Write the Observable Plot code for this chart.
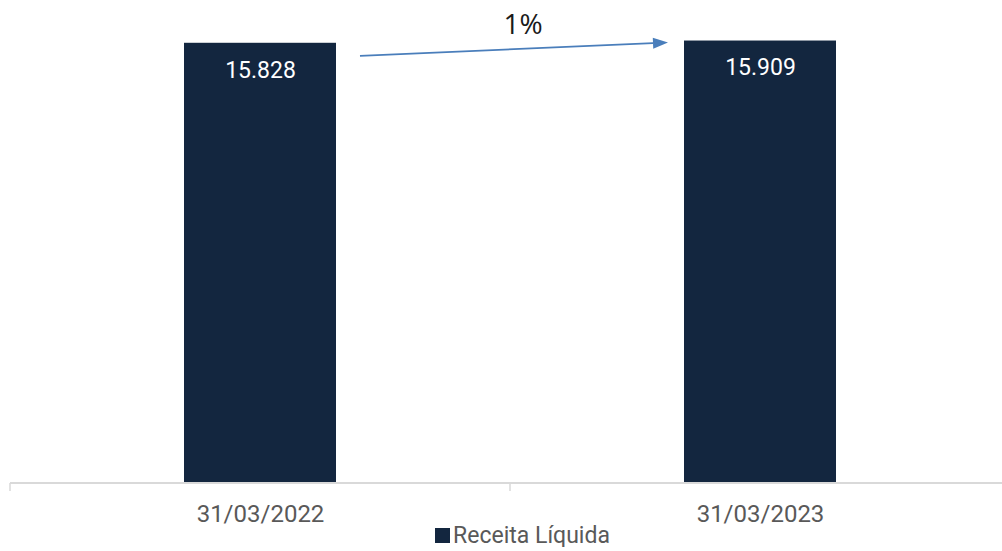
<!DOCTYPE html>
<html><head><meta charset="utf-8">
<script src="https://cdn.jsdelivr.net/npm/d3@7"></script>
<script src="https://cdn.jsdelivr.net/npm/@observablehq/plot@0.6"></script>
<style>
html,body{margin:0;padding:0;background:#fff;}
#chart svg{display:block;}
#legend{position:relative;margin-top:-8px;height:23px;display:flex;justify-content:center;align-items:center;padding-left:43px;font-family:Roboto,sans-serif;font-size:23px;color:#595959;}
#legend .sw{width:15px;height:15px;background:#13263F;margin-right:3px;flex:none;}
</style></head>
<body><div id="chart"></div><div id="legend"></div>
<script>
const categories = ["31/03/2022", "31/03/2023"];
const values = [15828, 15909];
const valueLabels = ["15.828", "15.909"];
const seriesName = "Receita Líquida";
const changeLabel = "1%";

const barColor = "#13263F";
const data = categories.map((c, i) => ({date: c, value: values[i], label: valueLabels[i]}));

function bw(x) { return typeof x.bandwidth === "function" ? x.bandwidth() : x.bandwidth; }

function axisLine(index, scales) {
  const {x, y} = scales;
  const b = bw(x);
  const step = x(categories[1]) - x(categories[0]);
  const gap = (step - b) / 2;
  const y0 = y(0);
  const g = d3.create("svg:g").attr("stroke", "#d9d9d9");
  const left = x(categories[0]) - gap;
  const right = x(categories[categories.length - 1]) + b + gap;
  g.append("line").attr("x1", left).attr("x2", right).attr("y1", y0).attr("y2", y0).attr("stroke-width", 2);
  for (let i = 0; i <= categories.length; i++) {
    const xx = left + i * step;
    g.append("line").attr("x1", xx).attr("x2", xx).attr("y1", y0).attr("y2", y0 + 8).attr("stroke-width", 1.5);
  }
  return g.node();
}

function changeArrow(index, scales) {
  const {x, y} = scales;
  const b = bw(x);
  const x1 = x(categories[0]) + b + 24, y1 = y(values[0]) + 13;
  const x2 = x(categories[1]) - 16, y2 = y(values[1]) + 2;
  const ang = Math.atan2(y2 - y1, x2 - x1);
  const L = 15, W = 5.5;
  const bx = x2 - L * Math.cos(ang), by = y2 - L * Math.sin(ang);
  const px = -Math.sin(ang) * W, py = Math.cos(ang) * W;
  const g = d3.create("svg:g");
  g.append("line").attr("x1", x1).attr("y1", y1).attr("x2", bx).attr("y2", by)
    .attr("stroke", "#4a7ebb").attr("stroke-width", 1.8);
  g.append("path").attr("d", `M${x2},${y2}L${bx + px},${by + py}L${bx - px},${by - py}Z`).attr("fill", "#4a7ebb");
  g.append("text").attr("x", (x1 + x2) / 2 + 9).attr("y", (y1 + y2) / 2 - 26)
    .attr("text-anchor", "middle").attr("dominant-baseline", "central")
    .attr("font-family", "'Open Sans', sans-serif").attr("font-size", 28).attr("fill", "#1a1a1a")
    .text(changeLabel);
  return g.node();
}

const plot = Plot.plot({
  width: 1002,
  height: 532,
  marginTop: 38,
  marginBottom: 49,
  marginLeft: 10,
  marginRight: 0,
  style: {background: "#fff"},
  x: {domain: categories, range: [10, 1010], paddingInner: 0.696, paddingOuter: 0.348, axis: null},
  y: {domain: [0, 16000], axis: null},
  marks: [
    Plot.barY(data, {x: "date", y: "value", fill: barColor}),
    axisLine,
    Plot.text(data, {x: "date", y: "value", text: "label", dy: 27, fill: "white", fontSize: 23, fontFamily: "Roboto"}),
    Plot.text(data, {x: "date", y: () => 0, text: "date", dy: 31, fill: "#595959", fontSize: 24, fontFamily: "Roboto"}),
    changeArrow
  ]
});
document.getElementById("chart").appendChild(plot);
const lg = document.getElementById("legend");
lg.innerHTML = `<span class="sw"></span><span>${seriesName}</span>`;
</script>
</body></html>
